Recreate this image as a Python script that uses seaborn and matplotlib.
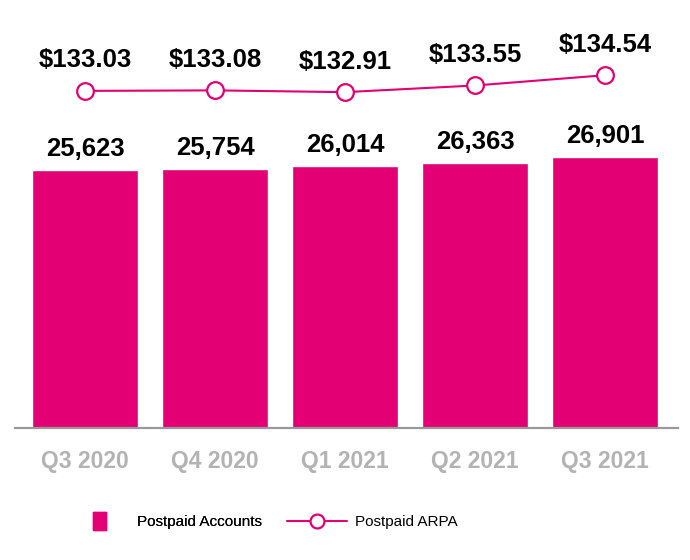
import matplotlib
matplotlib.use("Agg")
import matplotlib.pyplot as plt
import seaborn as sns
import numpy as np
import pandas as pd
from matplotlib.lines import Line2D
from matplotlib.path import Path

quarters = ["Q3 2020", "Q4 2020", "Q1 2021", "Q2 2021", "Q3 2021"]
accounts = [25623, 25754, 26014, 26363, 26901]
arpa = [133.03, 133.08, 132.91, 133.55, 134.54]
account_labels = ["25,623", "25,754", "26,014", "26,363", "26,901"]
arpa_labels = ["$133.03", "$133.08", "$132.91", "$133.55", "$134.54"]

MAGENTA = "#E20074"

sns.set_theme(style="white")
plt.rcParams['font.family'] = ['Liberation Sans', 'DejaVu Sans']
plt.rcParams['text.color'] = 'black'

W, H = 690, 560
fig = plt.figure(figsize=(W / 100, H / 100), dpi=100)
left_px, right_px, top_px, bottom_px = 15, 678, 20, 428
ax = fig.add_axes([left_px / W, 1 - bottom_px / H, (right_px - left_px) / W, (bottom_px - top_px) / H])

df = pd.DataFrame({"quarter": quarters, "accounts": accounts})
sns.barplot(data=df, x="quarter", y="accounts", color=MAGENTA, saturation=1,
            width=0.815, ax=ax)
ax.set_xlim(-0.538, 4.56)
ax.set_ylim(0, 40516)
for i, (v, lab) in enumerate(zip(accounts, account_labels)):
    ax.annotate(lab, (i, v), xytext=(0, 15), textcoords="offset points",
                ha="center", va="center", fontsize=18.5, fontweight="bold", color="black")

ax.set_xlabel("")
ax.set_ylabel("")
ax.set_yticks([])
ax.tick_params(axis="x", length=0, pad=16)
for t in ax.get_xticklabels():
    t.set_fontsize(16.5)
    t.set_fontweight("bold")
    t.set_color("#b3b3b3")
for s in ["top", "right", "left"]:
    ax.spines[s].set_visible(False)
ax.spines["bottom"].set_color("#999999")
ax.spines["bottom"].set_linewidth(1.6)

ax2 = ax.twinx()
sns.lineplot(x=np.arange(len(arpa)), y=arpa, ax=ax2, color=MAGENTA, linewidth=1.5,
             marker="o", markersize=12, markerfacecolor="white",
             markeredgecolor=MAGENTA, markeredgewidth=1.6)
ax2.set_ylim(100.6, 139.85)
ax2.set_yticks([])
for s in ["top", "right", "left", "bottom"]:
    ax2.spines[s].set_visible(False)
for i, (v, lab) in enumerate(zip(arpa, arpa_labels)):
    ax2.annotate(lab, (i, v), xytext=(0, 22), textcoords="offset points",
                 ha="center", va="center", fontsize=18.5, fontweight="bold", color="black")

rect = Path([(-0.36, -0.5), (0.36, -0.5), (0.36, 0.5), (-0.36, 0.5), (-0.36, -0.5)])
h1 = Line2D([], [], linestyle="none", marker=rect, markersize=13,
            markerfacecolor=MAGENTA, markeredgecolor=MAGENTA)
h2 = Line2D([], [], color=MAGENTA, linewidth=1.5, marker="o", markersize=10,
            markerfacecolor="white", markeredgecolor=MAGENTA, markeredgewidth=1.6)
fs = 11
em = fs * 100 / 72
leg1 = fig.legend([h1], ["Postpaid Accounts"], loc="center left",
                  bbox_to_anchor=(84 / W, 1 - 522 / H), frameon=False,
                  borderpad=0, borderaxespad=0, handlelength=30 / em,
                  handletextpad=23 / em, prop={"size": fs}, labelcolor="black")
leg2 = fig.legend([h2], ["Postpaid ARPA"], loc="center left",
                  bbox_to_anchor=(287 / W, 1 - 522 / H), frameon=False,
                  borderpad=0, borderaxespad=0, handlelength=60 / em,
                  handletextpad=8 / em, prop={"size": fs}, labelcolor="black")
fig.add_artist(leg1)

fig.savefig("out.png", dpi=100)
